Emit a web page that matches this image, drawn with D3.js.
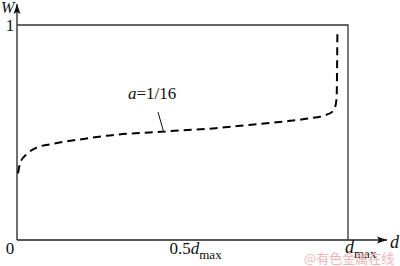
<!DOCTYPE html>
<html>
<head>
<meta charset="utf-8">
<script src="https://cdn.jsdelivr.net/npm/d3@7"></script>
<style>
  body { margin: 0; background: #fff; }
</style>
</head>
<body>
<div id="container"></div>
<script>
/* CONSTANTS AND GLOBALS */
const width = 400;
const height = 266;

// curve a=1/16: d as fraction of d_max, W
const dFrac = [0.003, 0.01, 0.03, 0.06, 0.1, 0.2, 0.3, 0.4, 0.5, 0.6, 0.7, 0.8, 0.88, 0.93, 0.955, 0.963, 0.966, 0.967, 0.968];
const wVals = [0.31, 0.36, 0.40, 0.43, 0.445, 0.47, 0.49, 0.50, 0.51, 0.52, 0.535, 0.55, 0.565, 0.58, 0.60, 0.63, 0.68, 0.80, 0.98];
const yTicks = [0, 1];
const xTickLabels = ["0.5", ""];

/* SCALES */
const xScale = d3.scaleLinear().domain([0, 1]).range([17, 348]);
const yScale = d3.scaleLinear().domain([0, 1]).range([240, 25]);

const svg = d3.select("#container")
  .append("svg")
  .attr("width", width)
  .attr("height", height)
  .attr("font-family", "'Liberation Serif', 'Times New Roman', serif")
  .attr("fill", "#111");

svg.append("defs").append("marker")
  .attr("id", "arrow")
  .attr("viewBox", "0 0 10 10")
  .attr("refX", 10).attr("refY", 5)
  .attr("markerWidth", 10).attr("markerHeight", 10)
  .attr("markerUnits", "userSpaceOnUse")
  .attr("orient", "auto")
  .append("path")
  .attr("d", "M0,1.5 L10,5 L0,8.5 L2,5 Z")
  .attr("fill", "#111");

// axes
svg.append("line")
  .attr("x1", xScale(0)).attr("y1", yScale(0))
  .attr("x2", xScale(0)).attr("y2", 4)
  .attr("stroke", "#222").attr("stroke-width", 1.3)
  .attr("marker-end", "url(#arrow)");
svg.append("line")
  .attr("x1", xScale(0)).attr("y1", yScale(0))
  .attr("x2", 387).attr("y2", yScale(0))
  .attr("stroke", "#222").attr("stroke-width", 1.3)
  .attr("marker-end", "url(#arrow)");

// W=1 limit and d=dmax limit
svg.append("path")
  .attr("d", `M${xScale(0)},${yScale(1)} H${xScale(1)} V${yScale(0)}`)
  .attr("fill", "none")
  .attr("stroke", "#333").attr("stroke-width", 1.3);

// dashed curve
const data = dFrac.map((d, i) => ({ d, w: wVals[i] }));
const line = d3.line()
  .x(d => xScale(d.d))
  .y(d => yScale(d.w))
  .curve(d3.curveMonotoneX);
svg.append("path")
  .datum(data)
  .attr("d", line)
  .attr("fill", "none")
  .attr("stroke", "#000")
  .attr("stroke-width", 2)
  .attr("stroke-dasharray", "8,5");

// labels
svg.selectAll(".ytick")
  .data(yTicks)
  .join("text")
  .attr("class", "ytick")
  .attr("x", 10)
  .attr("y", d => yScale(d) + (d === 0 ? 14 : 6))
  .attr("text-anchor", "middle")
  .attr("font-size", 17)
  .text(d => d);

svg.append("text")
  .attr("x", 1).attr("y", 13)
  .attr("font-size", 16).attr("font-style", "italic")
  .text("W");

svg.append("text")
  .attr("x", 390).attr("y", 248)
  .attr("font-size", 18).attr("font-style", "italic")
  .text("d");

const half = svg.append("text")
  .attr("x", xScale(0.5) - 13).attr("y", 254)
  .attr("font-size", 17);
half.append("tspan").text(xTickLabels[0]);
half.append("tspan").attr("font-style", "italic").text("d");
half.append("tspan").attr("font-size", 13).attr("dy", 5).text("max");

const full = svg.append("text")
  .attr("x", xScale(1) - 3).attr("y", 253)
  .attr("font-size", 18);
full.append("tspan").attr("font-style", "italic").text("d");
full.append("tspan").attr("font-size", 13).attr("dy", 5).text("max");

// annotation
svg.append("line")
  .attr("x1", 158).attr("y1", 112)
  .attr("x2", 163.5).attr("y2", yScale(0.5) - 1)
  .attr("stroke", "#111").attr("stroke-width", 1);
const ann = svg.append("text")
  .attr("x", 128).attr("y", 99)
  .attr("font-size", 17);
ann.append("tspan").attr("font-style", "italic").text("a");
ann.append("tspan").text("=1/16");

// watermark
svg.append("text")
  .attr("x", 304).attr("y", 263)
  .attr("font-size", 13)
  .attr("font-family", "Noto Sans CJK SC")
  .attr("fill", "#f0b5b5")
  .text("@有色金属在线");
</script>
</body>
</html>
